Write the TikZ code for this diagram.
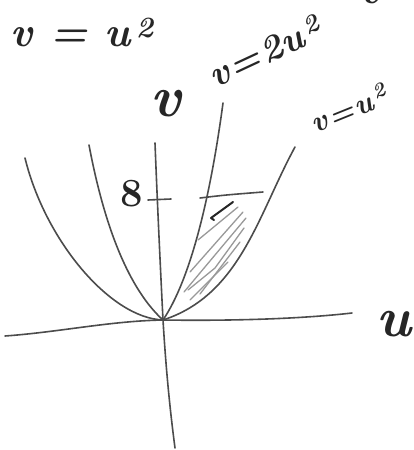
\documentclass[tikz,border=0pt]{standalone}
\newcommand{\hlab}[1]{\bfseries\itshape #1}
\newcommand{\hsq}{\kern0.12em\textsuperscript{2}}
\begin{document}
\begin{tikzpicture}[x=1pt,y=-1pt,
  pen/.style={draw=black!70,line width=1.6pt,line cap=round,line join=round},
  hatch/.style={draw=black!40,line width=1.3pt,line cap=round,line join=round},
  hand/.style={text=black!85,inner sep=0pt}]
\clip (0,0) rectangle (414,450);
\fill[white] (0,0) rectangle (414,450);
% key points
\coordinate (O) at (163,320);
\coordinate (xl) at (5,336);
\coordinate (xr) at (352,313);
\coordinate (yt) at (155,143);
\coordinate (yb) at (175,448);
\coordinate (pl1) at (25,158);
\coordinate (pl2) at (89,145);
\coordinate (pr2) at (223,103);
\coordinate (pr1) at (295,147);
\coordinate (tl) at (200,198);
\coordinate (tr) at (263,192);
\coordinate (k1) at (148,200);
\coordinate (k2) at (171,199);
% axes
\draw[pen] (xl) .. controls (60,332) and (110,321) .. (O) .. controls (230,321) and (300,319) .. (xr);
\draw[pen] (yt) .. controls (158,220) and (162,300) .. (O) .. controls (166,370) and (170,410) .. (yb);
% parabolas
\draw[pen] (pl1) .. controls (45,240) and (110,318) .. (O);
\draw[pen] (pl2) .. controls (105,230) and (130,290) .. (O);
\draw[pen] (pr2) .. controls (210,200) and (190,280) .. (O);
\draw[pen] (pr1) .. controls (258,215) and (240,295) .. (O);
% level v=8
\draw[pen] (k1) -- (k2);
\draw[pen] (tl) .. controls (225,195) .. (tr);
% hatching
\draw[hatch] (238,207) -- (198,240);
\draw[hatch] (243,212) -- (190,272);
\draw[hatch] (246,218) -- (184,292);
\draw[hatch] (244,228) -- (215,268) -- (188,290);
\draw[hatch] (240,242) -- (200,294);
\draw[hatch] (228,262) -- (190,300);
\draw[draw=black!85,line width=2pt,line cap=round,line join=round] (233,202) -- (211,218) -- (214,220);
% labels
\node[hand,font=\fontsize{42}{42}\selectfont\hlab] (lab1) at (82,32) {v = u\hsq};
\node[hand,font=\fontsize{37}{37}\selectfont\hlab,rotate=25] (lab2) at (265,51) {v\kern0.05em=\kern0.05em2u\hsq};
\node[hand,font=\fontsize{30}{30}\selectfont\hlab,rotate=22] (lab3) at (349,108) {v\kern0.05em=\kern0.05emu\hsq};
\node[hand,font=\fontsize{58}{58}\selectfont\hlab] (labv) at (166,104) {v};
\node[hand,font=\fontsize{56}{56}\selectfont\hlab] (labu) at (394,324) {u};
\node[hand,font=\fontsize{40}{40}\selectfont\bfseries] (lab8) at (132,194) {8};
\node[hand,font=\fontsize{44}{44}\selectfont\hlab] (labvt) at (370,-6) {v};
\end{tikzpicture}
\end{document}
